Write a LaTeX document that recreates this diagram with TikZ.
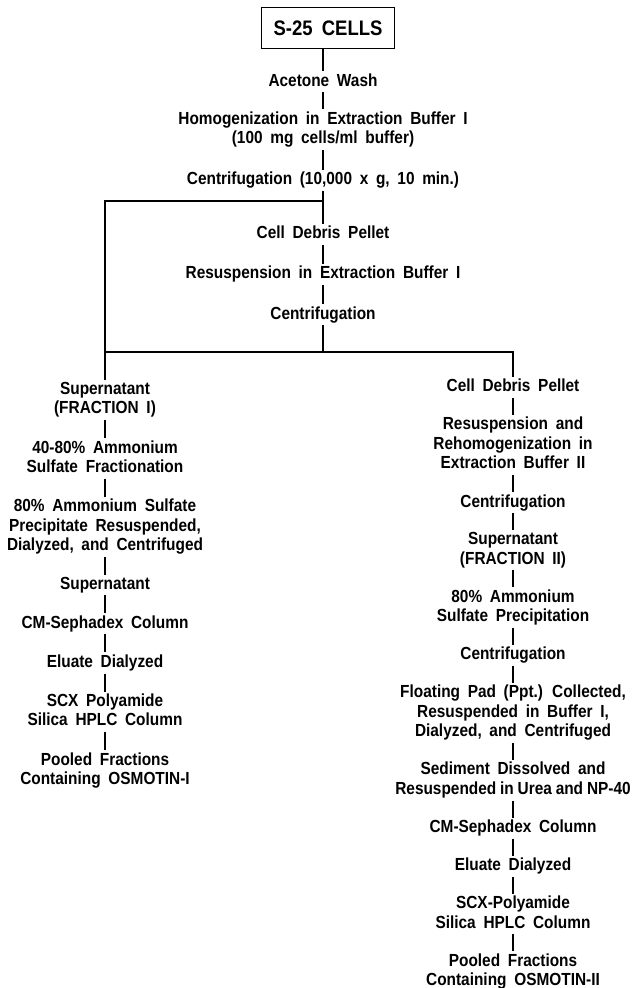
\documentclass[tikz,border=0pt]{standalone}
\usepackage{fontspec}
\setmainfont{Liberation Sans}[WordSpace=1.8,FakeStretch=0.88]
\usetikzlibrary{positioning}
\newcommand\stagefont{\bfseries\fontsize{17.5}{19.5}\selectfont}
\newcommand\fstrut{\rule[-4pt]{0pt}{13pt}}

\begin{document}
\begin{tikzpicture}[x=1pt,y=1pt,node distance=17pt,
  stage/.style={align=center,inner sep=2pt,font=\stagefont,
    execute at begin node=\fstrut,execute at end node=\fstrut},
  link/.style={line width=1.6pt}]
  \useasboundingbox (0,0) rectangle (635,-988);
  % trunk
  \node[draw,line width=1.8pt,minimum width=133pt,minimum height=41pt,
    font=\bfseries\fontsize{21}{24}\selectfont] (cells) at (328,-28) {S-25 CELLS};
  \node[stage,below=22pt of cells,xshift=-5pt] (wash) {Acetone Wash};
  \node[stage,below=of wash] (homog) {Homogenization in Extraction Buffer I\\(100 mg cells/ml buffer)};
  \node[stage,below=20pt of homog] (centa) {Centrifugation (10,000 x g, 10 min.)};
  \coordinate (split) at (323,-201);
  \node[stage,anchor=north] (debris) at (323,-224) {Cell Debris Pellet};
  \node[stage,below=19pt of debris] (resusp) {Resuspension in Extraction Buffer I};
  \node[stage,below=19pt of resusp] (centb) {Centrifugation};
  \coordinate (join) at (323,-352);
  % left branch
  \begin{scope}[node distance=18pt]
  \node[stage,anchor=north] (sup1) at (105,-380) {Supernatant\\(FRACTION I)};
  \node[stage,below=of sup1] (amm1) {40-80\% Ammonium\\Sulfate Fractionation};
  \node[stage,below=of amm1] (prec1) {80\% Ammonium Sulfate\\Precipitate Resuspended,\\Dialyzed, and Centrifuged};
  \node[stage,below=of prec1] (sup1b) {Supernatant};
  \node[stage,below=of sup1b] (cm1) {CM-Sephadex Column};
  \node[stage,below=of cm1] (elu1) {Eluate Dialyzed};
  \node[stage,below=of elu1] (scx1) {SCX Polyamide\\Silica HPLC Column};
  \node[stage,below=of scx1] (pool1) {Pooled Fractions\\Containing OSMOTIN-I};
  \end{scope}
  % right branch
  \node[stage,anchor=north] (pel2) at (513,-377) {Cell Debris Pellet};
  \node[stage,below=of pel2] (rehom2) {Resuspension and\\Rehomogenization in\\Extraction Buffer II};
  \node[stage,below=of rehom2] (cent2) {Centrifugation};
  \node[stage,below=of cent2] (sup2) {Supernatant\\(FRACTION II)};
  \node[stage,below=of sup2] (amm2) {80\% Ammonium\\Sulfate Precipitation};
  \node[stage,below=of amm2] (cent2b) {Centrifugation};
  \node[stage,below=of cent2b] (pad2) {Floating Pad (Ppt.) Collected,\\Resuspended in Buffer I,\\Dialyzed, and Centrifuged};
  \node[stage,below=of pad2] (sed2) {Sediment Dissolved and\\{\spaceskip=.22em Resuspended in Urea and NP-40}};
  \node[stage,below=of sed2] (cm2) {CM-Sephadex Column};
  \node[stage,below=of cm2] (elu2) {Eluate Dialyzed};
  \node[stage,below=of elu2] (scx2) {SCX-Polyamide\\Silica HPLC Column};
  \node[stage,below=of scx2] (pool2) {Pooled Fractions\\Containing OSMOTIN-II};
  % connectors
  \draw[link] (cells.south -| wash.north) -- (wash);
  \draw[link] (wash) -- (homog);
  \draw[link] (homog) -- (centa);
  \draw[link] (centa) -- (debris);
  \draw[link] (split) -| (sup1);
  \draw[link] (debris) -- (resusp);
  \draw[link] (resusp) -- (centb);
  \draw[link] (centb) -- (join) -| (pel2);
  \draw[link] (join) -| (sup1);
  \draw[link] (sup1) -- (amm1);
  \draw[link] (amm1) -- (prec1);
  \draw[link] (prec1) -- (sup1b);
  \draw[link] (sup1b) -- (cm1);
  \draw[link] (cm1) -- (elu1);
  \draw[link] (elu1) -- (scx1);
  \draw[link] (scx1) -- (pool1);
  \draw[link] (pel2) -- (rehom2);
  \draw[link] (rehom2) -- (cent2);
  \draw[link] (cent2) -- (sup2);
  \draw[link] (sup2) -- (amm2);
  \draw[link] (amm2) -- (cent2b);
  \draw[link] (cent2b) -- (pad2);
  \draw[link] (pad2) -- (sed2);
  \draw[link] (sed2) -- (cm2);
  \draw[link] (cm2) -- (elu2);
  \draw[link] (elu2) -- (scx2);
  \draw[link] (scx2) -- (pool2);
\end{tikzpicture}
\end{document}
